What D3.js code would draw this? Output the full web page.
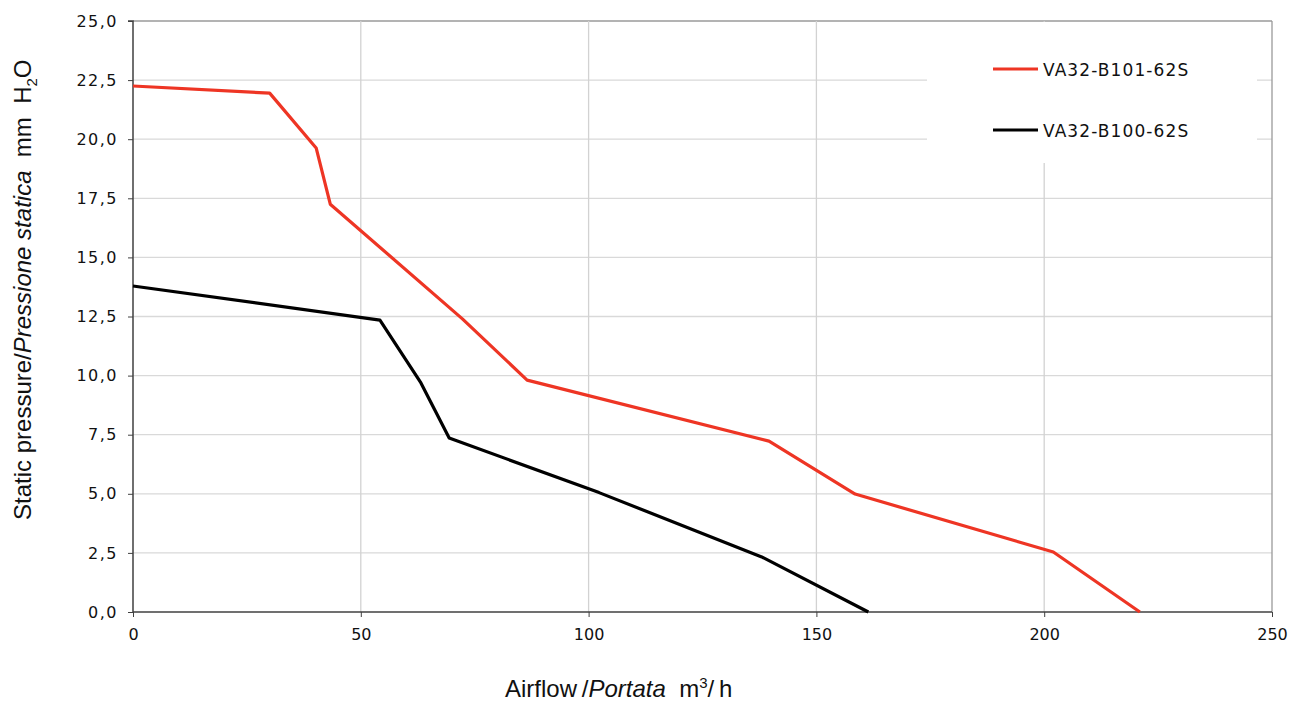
<!DOCTYPE html>
<html><head><meta charset="utf-8">
<script src="https://cdn.jsdelivr.net/npm/d3@7"></script>
<style>
body{margin:0;background:#fff;}
svg{display:block;}
</style></head>
<body>
<svg id="chart" width="1292" height="702"></svg>
<script>
const seriesNames = ["VA32-B101-62S", "VA32-B100-62S"];
const seriesColors = ["#ee3524", "#000000"];
const redX = [0, 30, 40.2, 43.3, 72.3, 86.5, 139.6, 158.5, 202, 221];
const redY = [22.25, 21.95, 19.63, 17.25, 12.4, 9.81, 7.23, 4.99, 2.54, 0];
const blackX = [0, 54.2, 63.2, 69.4, 102.3, 138, 161.4];
const blackY = [13.79, 12.35, 9.69, 7.36, 5.05, 2.33, 0];
const xTicks = [0, 50, 100, 150, 200, 250];
const yTicks = [0, 2.5, 5, 7.5, 10, 12.5, 15, 17.5, 20, 22.5, 25];

const svg = d3.select("#chart");
const L = 133, R = 1272, T = 21, B = 612;
const x = d3.scaleLinear().domain([0, 250]).range([L, R]);
const y = d3.scaleLinear().domain([0, 25]).range([B, T]);
const fmt = v => d3.format(".1f")(v).replace(".", ",");

// gridlines
svg.append("g").selectAll("line").data(yTicks.filter(v => v > 0))
  .join("line").attr("x1", L).attr("x2", R).attr("y1", d => y(d)).attr("y2", d => y(d))
  .attr("stroke", d => d === 25 ? "#9a9a9a" : "#d9d9d9").attr("stroke-width", 1.3);
svg.append("g").selectAll("line").data(xTicks.filter(v => v > 0))
  .join("line").attr("y1", T).attr("y2", B).attr("x1", d => x(d)).attr("x2", d => x(d))
  .attr("stroke", d => d === 250 ? "#9a9a9a" : "#d2d2d2").attr("stroke-width", 1.3);

// legend background
svg.append("rect").attr("x", 927).attr("y", T + 1).attr("width", 330).attr("height", 141).attr("fill", "#fff");

// axes
const yAxis = d3.axisLeft(y).tickValues(yTicks).tickFormat(fmt).tickSize(5).tickPadding(10);
const gy = svg.append("g").attr("transform", `translate(${L},0)`).call(yAxis);
gy.attr("font-family", "DejaVu Sans").attr("font-size", 16);
gy.select(".domain").attr("stroke", "#404040").attr("stroke-width", 1.5).attr("d", `M-5,${T}H0V${B}`);
gy.selectAll(".tick line").attr("stroke", "#404040");
gy.selectAll(".tick text").attr("letter-spacing", 1.5).attr("fill", "#111");

const xAxis = d3.axisBottom(x).tickValues(xTicks).tickFormat(d3.format("d")).tickSize(5).tickPadding(12);
const gx = svg.append("g").attr("transform", `translate(0,${B})`).call(xAxis);
gx.attr("font-family", "DejaVu Sans").attr("font-size", 16);
gx.select(".domain").attr("stroke", "#404040").attr("stroke-width", 1.5).attr("d", `M${L},0H${R}`);
gx.selectAll(".tick line").attr("stroke", "#404040");
gx.selectAll(".tick text").attr("fill", "#111");

// lines
const line = d3.line().x(d => x(d[0])).y(d => y(d[1]));
const series = [d3.zip(redX, redY), d3.zip(blackX, blackY)];
series.forEach((s, i) => {
  svg.append("path").datum(s).attr("d", line).attr("fill", "none")
    .attr("stroke", seriesColors[i]).attr("stroke-width", 3.2).attr("stroke-linejoin", "round");
});

// legend
const legY = [69, 130];
seriesNames.forEach((n, i) => {
  svg.append("line").attr("x1", 993).attr("x2", 1038).attr("y1", legY[i]).attr("y2", legY[i])
    .attr("stroke", seriesColors[i]).attr("stroke-width", 3.2);
  svg.append("text").attr("x", 1043).attr("y", legY[i] + 7).text(n)
    .attr("font-family", "DejaVu Sans").attr("font-size", 17).attr("letter-spacing", 1.1).attr("fill", "#111");
});

// axis titles
const xt = svg.append("text").attr("x", 505).attr("y", 697)
  .attr("font-family", "Liberation Sans, Arial").attr("font-size", 24).attr("fill", "#111");
xt.append("tspan").text("Airflow\u2009/");
xt.append("tspan").attr("font-style", "italic").text("Portata");
xt.append("tspan").text("\u00a0 m");
xt.append("tspan").attr("font-size", 15).attr("dy", -9).text("3");
xt.append("tspan").attr("dy", 9).text("/\u2009h");

const yt = svg.append("text").attr("transform", "translate(31,520) rotate(-90)")
  .attr("font-family", "Liberation Sans, Arial").attr("font-size", 24).attr("fill", "#111");
yt.append("tspan").text("Static pressure/");
yt.append("tspan").attr("font-style", "italic").text("Pressione statica");
yt.append("tspan").text("\u00a0 mm\u00a0 H");
yt.append("tspan").attr("font-size", 15).attr("dy", 6).text("2");
yt.append("tspan").attr("dy", -6).text("O");
</script>
</body></html>
